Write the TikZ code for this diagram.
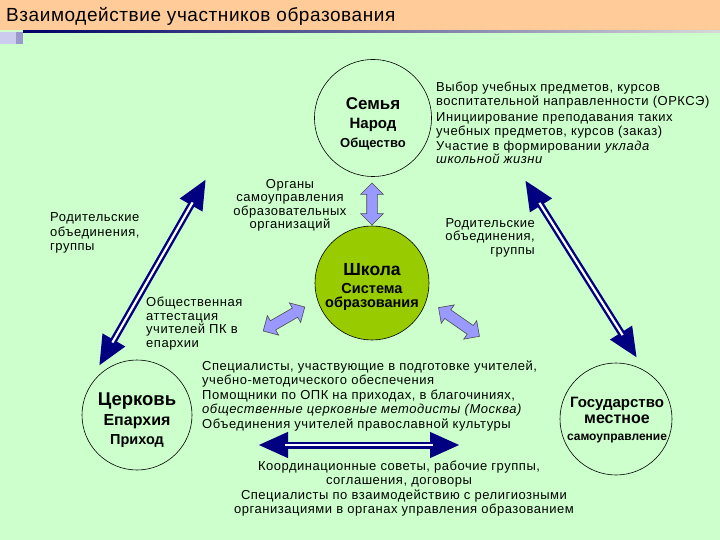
\documentclass[tikz,border=0pt]{standalone}
\usepackage{fontspec}
\setmainfont{Liberation Sans}
\newfontfamily\wideface{Liberation Sans}[LetterSpace=4]
\usetikzlibrary{shapes.arrows, arrows.meta, positioning}

\definecolor{bggreen}{HTML}{CCFFCC}
\definecolor{titleorange}{HTML}{FFCC99}
\definecolor{schoolgreen}{HTML}{99CC00}
\definecolor{navyblue}{HTML}{000080}
\definecolor{lavender}{HTML}{9999FF}
\definecolor{sqlight}{HTML}{CCCCEE}
\definecolor{sqdark}{HTML}{9999CC}

\begin{document}
\begin{tikzpicture}[x=1pt,y=-1pt,every node/.style={inner sep=0pt}]
	\tikzset{txt/.style={font=\wideface\fontsize{13}{13.5}\selectfont},
		party/.style={circle, draw=black, line width=0.6pt},
		circtext/.style={align=center},
		lavarrow/.style={double arrow, draw=black!70, fill=lavender, line width=0.6pt, minimum height=42pt, inner xsep=0pt, inner ysep=5pt, double arrow head extend=6pt},
		navyarrow/.style={draw=navyblue, line width=7pt, {Triangle[length=30pt,width=24pt]}-{Triangle[length=30pt,width=24pt]}},
		navygap/.style={draw=white, line width=2.2pt, shorten <=27pt, shorten >=27pt}}
	\useasboundingbox (0,0) rectangle (720,540);
	\fill[bggreen] (0,0) rectangle (720,540);
	\fill[titleorange] (0,0) rectangle (720,30.5);
	\shade[left color=navyblue!80!black, right color=black!15] (23,30.5) rectangle (720,32.5);
	\fill[sqlight] (0,32.5) rectangle (16,44);
	\fill[sqdark] (16,32.5) rectangle (23,44);
	\node[anchor=west, font=\addfontfeature{LetterSpace=3}\fontsize{19}{20}\selectfont] (title) at (6,16) {Взаимодействие участников образования};

	% circles
	\node[party, minimum size=117pt] (family) at (373,118) {};
	\node[party, fill=schoolgreen, minimum size=114pt] (school) at (372,283) {};
	\node[party, minimum size=110pt] (church) at (137,415) {};
	\node[party, minimum size=112pt] (state) at (616,419) {};
	\node[circtext, font=\bfseries\fontsize{13}{19}\selectfont] (familyText) at (373,124) {{\fontsize{17}{19}\selectfont Семья}\\{\fontsize{15}{19}\selectfont Народ}\\{\fontsize{13}{19}\selectfont Общество}};
	\node[circtext, font=\bfseries\fontsize{14.5}{14.5}\selectfont] (schoolText) at (372,287) {{\fontsize{17.5}{19}\selectfont Школа}\\[3.5pt]{Система}\\{образования}};
	\node[circtext, font=\bfseries\fontsize{15}{19}\selectfont] (churchText) at (137,420) {{\fontsize{18.5}{19}\selectfont Церковь}\\[1pt]{\fontsize{16}{19}\selectfont Епархия}\\{\fontsize{14.5}{19}\selectfont Приход}};
	\node[circtext, font=\bfseries\fontsize{15}{16.5}\selectfont] (stateText) at (617,420) {{Государство}\\{\fontsize{16}{17}\selectfont местное}\\{\fontsize{12}{16}\selectfont самоуправление}};

	% arrows
	\coordinate (leftTop) at (206,179);
	\coordinate (leftBottom) at (99,366);
	\coordinate (rightTop) at (525,180);
	\coordinate (rightBottom) at (637,358);
	\coordinate (bottomLeft) at (258,445);
	\coordinate (bottomRight) at (460,445);
	\draw[navyarrow] (leftTop) -- (leftBottom);
	\draw[navygap] (leftTop) -- (leftBottom);
	\draw[navyarrow] (rightTop) -- (rightBottom);
	\draw[navygap] (rightTop) -- (rightBottom);
	\draw[navyarrow] (bottomLeft) -- (bottomRight);
	\draw[navygap] (bottomLeft) -- (bottomRight);
	\node[lavarrow, rotate=90] (selfGov) at (372,204) {};
	\node[lavarrow, rotate=30, minimum height=48pt] (attest) at (284,319) {};
	\node[lavarrow, rotate=-35, minimum height=50pt] (parentsRight) at (459,322) {};

	% texts
	\node[txt, anchor=north west, align=left] (familyRole) at (436,82) {Выбор учебных предметов, курсов\\воспитательной направленности (ОРКСЭ)\\[3pt]Инициирование преподавания таких\\учебных предметов, курсов (заказ)\\[1.5pt]Участие в формировании \textit{уклада}\\\textit{школьной жизни}};
	\node[txt, anchor=north, align=center] (organs) at (290,179) {Органы\\самоуправления\\образовательных\\организаций};
	\node[txt, anchor=north west, align=left] (parentsL) at (50,212) {Родительские\\[2pt]объединения,\\группы};
	\node[txt, anchor=north east, align=right] (parentsR) at (535,218) {Родительские\\объединения,\\группы};
	\node[txt, anchor=north west, align=left] (attestText) at (146,297) {Общественная\\аттестация\\учителей ПК в\\епархии};
	\node[txt, anchor=north west, align=left] (churchRole) at (202,361) {Специалисты, участвующие в подготовке учителей,\\учебно-методического обеспечения\\[2pt]Помощники по ОПК на приходах, в благочиниях,\\\textit{общественные церковные методисты (Москва)}\\[1.5pt]Объединения учителей православной культуры};
	\node[txt, anchor=north, align=center] (councils) at (399,461) {Координационные советы, рабочие группы,\\соглашения, договоры};
	\node[txt, anchor=north, align=center] (specialists) at (404,490) {Специалисты по взаимодействию с религиозными\\организациями в органах управления образованием};
\end{tikzpicture}
\end{document}
